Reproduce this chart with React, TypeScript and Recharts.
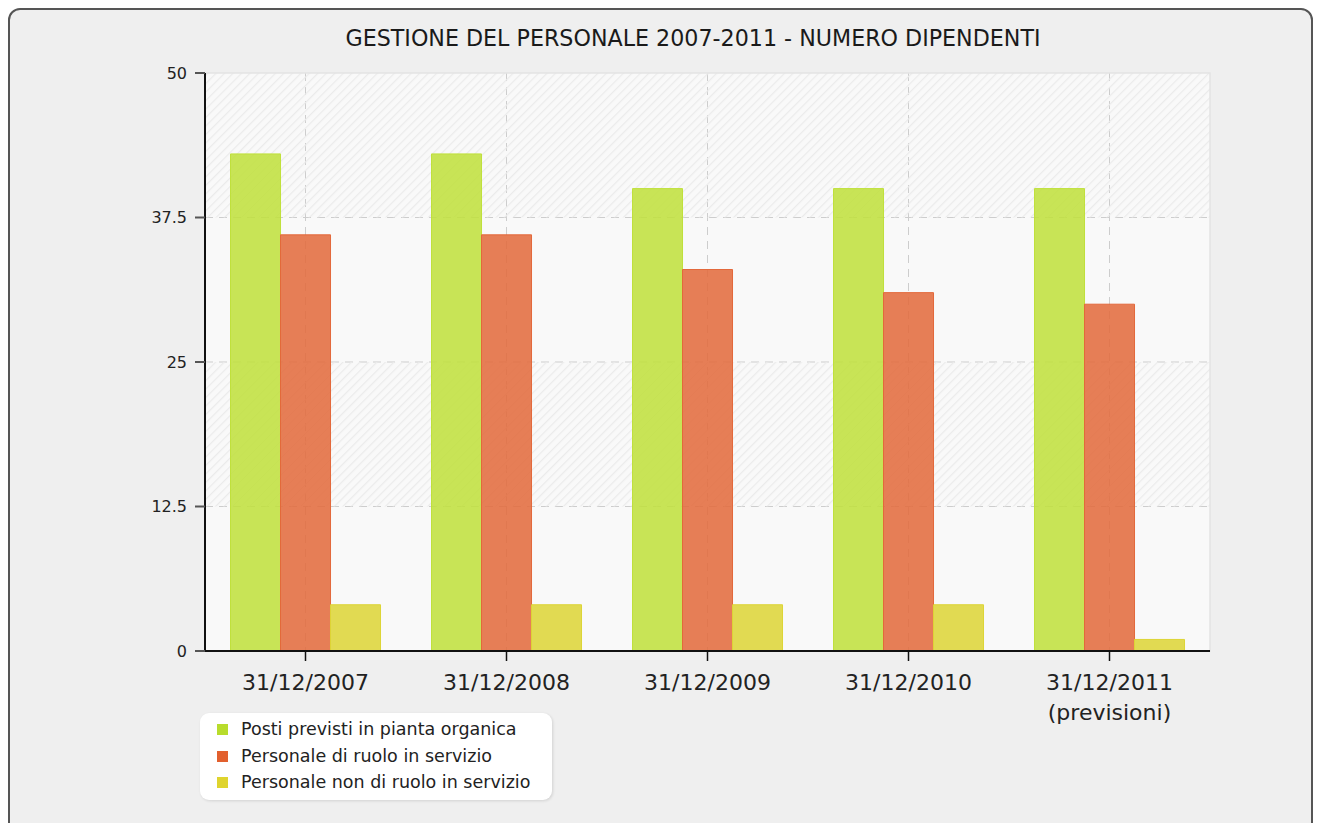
import React from 'react';
import { BarChart, Bar, XAxis, YAxis, CartesianGrid, Legend, ReferenceArea } from 'recharts';

const categories = ['31/12/2007', '31/12/2008', '31/12/2009', '31/12/2010', '31/12/2011\n(previsioni)'];
const postiPrevisti = [43, 43, 40, 40, 40];
const personaleRuolo = [36, 36, 33, 31, 30];
const personaleNonRuolo = [4, 4, 4, 4, 1];
const yTicks = [0, 12.5, 25, 37.5, 50];
const seriesKeys = ['posti', 'ruolo', 'nonRuolo'];
const seriesNames = ['Posti previsti in pianta organica', 'Personale di ruolo in servizio', 'Personale non di ruolo in servizio'];
const barColors = ['#bfe03a', '#e3683a', '#ddd535'];
const legendColors = ['#b8dc2c', '#e2602e', '#dfd42e'];
const title = 'GESTIONE DEL PERSONALE 2007-2011 - NUMERO DIPENDENTI';

const data = categories.map((c, i) => ({
  category: c,
  posti: postiPrevisti[i],
  ruolo: personaleRuolo[i],
  nonRuolo: personaleNonRuolo[i],
}));

const FONT = '"DejaVu Sans", Verdana, sans-serif';
const Y_MAX = yTicks[yTicks.length - 1];

const XTick = (props: any) => {
  const { x, y, payload } = props;
  const lines = String(payload.value).split('\n');
  return (
    <text x={x} y={y} textAnchor="middle" fill="#222" fontSize={22} fontFamily={FONT}>
      {lines.map((l: string, i: number) => (
        <tspan key={i} x={x} dy={i === 0 ? 27 : 30}>{l}</tspan>
      ))}
    </text>
  );
};

const LegendContent = () => (
  <div
    style={{
      width: 352,
      height: 87,
      boxSizing: 'border-box',
      background: '#ffffff',
      borderRadius: 9,
      boxShadow: '1px 1px 3px rgba(0,0,0,0.12)',
      paddingTop: 3,
      fontFamily: FONT,
      fontSize: 17.5,
      color: '#222',
    }}
  >
    {seriesNames.map((n, i) => (
      <div key={n} style={{ height: 26.5, position: 'relative' }}>
        <span style={{ position: 'absolute', left: 17, top: 8, width: 11, height: 11, background: legendColors[i] }} />
        <span style={{ position: 'absolute', left: 41, top: 1, lineHeight: '24px', whiteSpace: 'nowrap' }}>{n}</span>
      </div>
    ))}
  </div>
);

const hGen = (props: any) => {
  const off = props.offset || {};
  return yTicks
    .filter((t) => t > 0 && t < Y_MAX)
    .map((t) => off.top + off.height * (1 - t / Y_MAX));
};

const vGen = (props: any) => {
  const off = props.offset || {};
  return categories.map((_, i) => off.left + ((i + 0.5) * off.width) / categories.length);
};

export default function App() {
  return (
    <div style={{ position: 'absolute', left: 0, top: 0, width: 1317, height: 823, overflow: 'hidden', fontFamily: FONT }}>
      <div
        style={{
          position: 'absolute',
          left: 8,
          top: 8,
          width: 1305,
          height: 830,
          boxSizing: 'border-box',
          border: '2px solid #555',
          borderRadius: 12,
          background: '#efefef',
        }}
      />
      <div
        style={{
          position: 'absolute',
          left: 293,
          top: 24,
          width: 800,
          textAlign: 'center',
          fontSize: 22.2,
          color: '#1a1a1a',
          lineHeight: '28px',
          whiteSpace: 'nowrap',
        }}
      >
        {title}
      </div>
      <div style={{ position: 'absolute', left: 0, top: 0 }}>
        <BarChart
          width={1317}
          height={823}
          data={data}
          margin={{ top: 73, right: 107, bottom: 112, left: 145 }}
          barCategoryGap="12.7%"
          barGap={0}
        >
          <defs>
            <pattern id="hatch" width="6" height="6" patternUnits="userSpaceOnUse" patternTransform="rotate(45)">
              <line x1="0" y1="0" x2="0" y2="6" stroke="#ebebeb" strokeWidth="2.5" />
            </pattern>
          </defs>
          <CartesianGrid
            stroke="#cdcdcd"
            strokeDasharray="8 6"
            fill="#f9f9f9"
            horizontalCoordinatesGenerator={hGen}
            verticalCoordinatesGenerator={vGen}
          />
          <ReferenceArea y1={37.5} y2={50} fill="url(#hatch)" fillOpacity={1} stroke="none" />
          <ReferenceArea y1={12.5} y2={25} fill="url(#hatch)" fillOpacity={1} stroke="none" />
          <ReferenceArea y1={0} y2={50} fill="none" stroke="#e4e4e4" strokeWidth={1.5} />
          <XAxis
            dataKey="category"
            tick={<XTick />}
            interval={0}
            tickSize={10}
            tickMargin={2}
            height={60}
            axisLine={{ stroke: '#111', strokeWidth: 2 }}
            tickLine={{ stroke: '#111', strokeWidth: 1.5 }}
          />
          <YAxis
            domain={[0, 50]}
            ticks={yTicks}
            width={60}
            tickSize={10}
            tickMargin={8}
            axisLine={{ stroke: '#111', strokeWidth: 2 }}
            tickLine={{ stroke: '#555', strokeWidth: 2 }}
            tick={{ fill: '#222', fontSize: 16, fontFamily: FONT }}
            allowDataOverflow
          />
          {seriesKeys.map((k, i) => (
            <Bar
              key={k}
              dataKey={k}
              name={seriesNames[i]}
              fill={barColors[i]}
              fillOpacity={0.85}
              stroke={barColors[i]}
              strokeWidth={1}
              isAnimationActive={false}
            />
          ))}
          <Legend
            layout="vertical"
            align="center"
            verticalAlign="middle"
            content={<LegendContent />}
            wrapperStyle={{ left: 200, top: 713, width: 352, height: 87, margin: 0 }}
          />
        </BarChart>
      </div>
    </div>
  );
}
